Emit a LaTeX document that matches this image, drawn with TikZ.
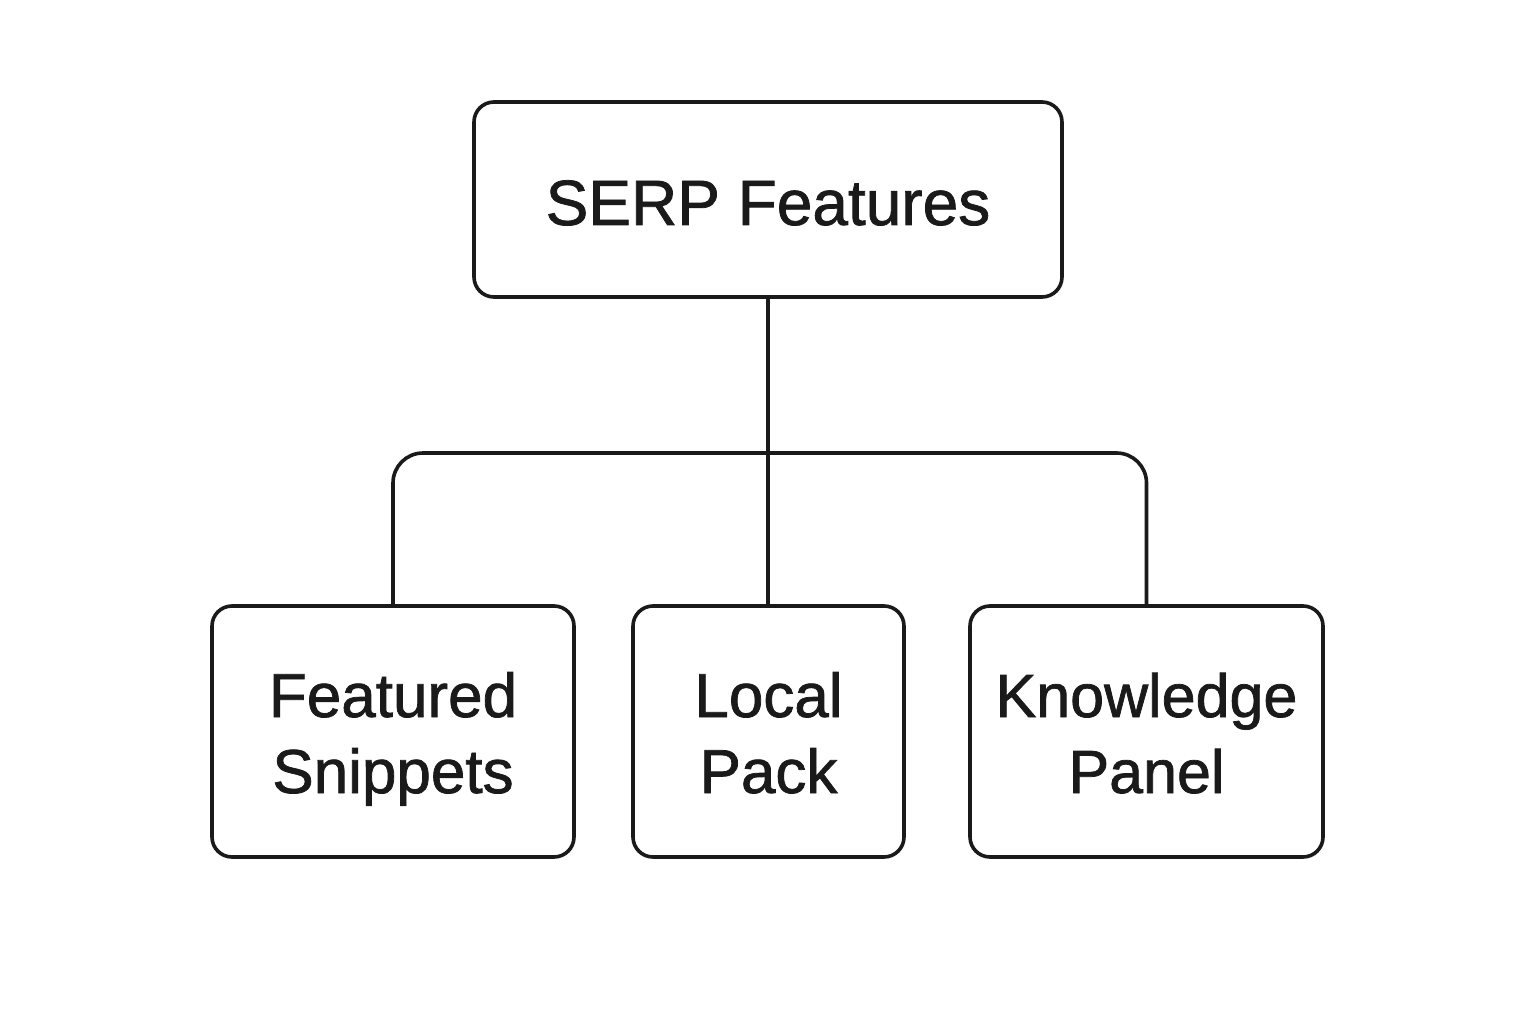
\documentclass[tikz,border=0pt]{standalone}
\usepackage{fontspec}
\setmainfont{Liberation Sans}[FakeBold=1.2]
\newcommand{\topstrut}{\rule{0pt}{62pt}}
\newcommand{\botstrut}{\rule[-15pt]{0pt}{15pt}}
\begin{document}
\begin{tikzpicture}[x=1pt,y=-1pt,
  box/.style={draw=ink, line width=3.6pt, rounded corners=20pt, inner sep=0pt, align=center, text=ink},
  link/.style={draw=ink, line width=3.6pt}]
\definecolor{ink}{HTML}{1A1A1A}
\useasboundingbox[fill=white] (0,0) rectangle (1536,1024);
\node[box, minimum width=588pt, minimum height=195pt, font=\fontsize{64}{76}\selectfont] (top) at (768,199.5) {\rule[-5pt]{0pt}{61pt}SERP Features};
\node[box, minimum width=362pt, minimum height=251pt, font=\fontsize{62}{76}\selectfont] (fs) at (393,731.5) {\topstrut Featured\\Snippets\botstrut};
\node[box, minimum width=271pt, minimum height=251pt, font=\fontsize{62}{76}\selectfont] (lp) at (768.5,731.5) {\topstrut Local\\Pack\botstrut};
\node[box, minimum width=353pt, minimum height=251pt, font=\fontsize{61}{76}\selectfont] (kp) at (1146.5,731.5) {\topstrut Knowledge\\Panel\botstrut};
\coordinate (bar) at (768,453);
\draw[link] (top.south) -- (top.south |- lp.north);
\draw[link, rounded corners=30pt] (fs.north) -- (fs.north |- bar) -- (kp.north |- bar) -- (kp.north);
\end{tikzpicture}
\end{document}
